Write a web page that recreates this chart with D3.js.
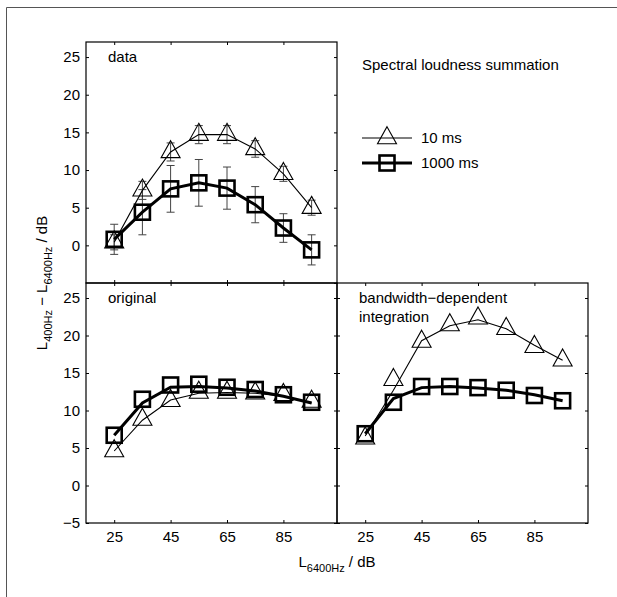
<!DOCTYPE html>
<html>
<head>
<meta charset="utf-8">
<script src="https://cdn.jsdelivr.net/npm/d3@7"></script>
<style>
  body { margin: 0; background: #fff; }
  svg { display: block; font-family: "Liberation Sans", Arial, sans-serif; }
</style>
</head>
<body>
<div id="chart"></div>
<script>
// x values (level of the 6400 Hz component)
const levels = [25, 35, 45, 55, 65, 75, 85, 95];
const xTicks = [25, 45, 65, 85];
const yTicks = [-5, 0, 5, 10, 15, 20, 25];

// data panel
const data10 = [0.4, 7.3, 12.4, 14.7, 14.7, 12.8, 9.5, 5.0];
const data10Err = [1.0, 1.2, 1.2, 1.2, 1.2, 1.1, 1.0, 1.0];
const data1000 = [0.8, 4.4, 7.5, 8.3, 7.6, 5.4, 2.3, -0.6];
const data1000Err = [2.0, 3.0, 3.1, 3.1, 2.8, 2.4, 1.9, 2.0];

// "original" model
const orig10 = [4.6, 8.8, 11.3, 12.4, 12.4, 12.3, 12.1, 11.2];
const orig10Line = [4.6, 8.7, 11.4, 12.3, 12.4, 12.3, 11.9, 11.0];
const orig1000 = [6.7, 11.5, 13.4, 13.5, 13.1, 12.8, 12.1, 11.1];
const orig1000Line = [6.7, 11.0, 13.1, 13.2, 13.0, 12.6, 11.9, 11.0];

// "bandwidth-dependent integration" model
const bw10 = [6.3, 14.1, 19.2, 21.4, 22.3, 20.9, 18.5, 16.7];
const bw10Line = [6.6, 12.7, 19.3, 21.3, 22.1, 20.9, 18.7, 16.7];
const bw1000 = [6.9, 11.1, 13.2, 13.2, 13.05, 12.7, 12.0, 11.3];
const bw1000Line = [6.9, 11.6, 13.05, 13.2, 13.0, 12.7, 12.1, 11.3];

const width = 617, height = 597;
const svg = d3.select("#chart").append("svg")
    .attr("width", width)
    .attr("height", height);

// outer frame of the figure
svg.append("path")
    .attr("d", `M6.5,${height}V7.5H${width}`)
    .attr("fill", "none")
    .attr("stroke", "#555")
    .attr("stroke-width", 1);

const panels = [
    { x0: 86, x1: 337, y0: 42, y1: 283, yLabels: true, xLabels: false,
      tri: data10, triLine: data10, triErr: data10Err,
      sq: data1000, sqLine: data1000, sqErr: data1000Err,
      label: ["data"] },
    { x0: 86, x1: 337, y0: 283, y1: 523, yLabels: true, xLabels: true,
      tri: orig10, triLine: orig10Line, sq: orig1000, sqLine: orig1000Line,
      label: ["original"] },
    { x0: 337, x1: 588, y0: 283, y1: 523, yLabels: false, xLabels: true,
      tri: bw10, triLine: bw10Line, sq: bw1000, sqLine: bw1000Line,
      label: ["bandwidth\u2212dependent", "integration"] }
];

// triangle centred on its centroid, like the matlab marker
const triPath = "M0,-11.3L9.5,5.7L-9.5,5.7Z";
const sqSize = 15;

panels.forEach(p => {
    const x = d3.scaleLinear().domain([15, 104]).range([p.x0, p.x1]);
    const y = d3.scaleLinear().domain([-5, 27]).range([p.y1, p.y0]);
    const g = svg.append("g");

    // inward ticks on all four sides
    g.append("g").attr("transform", `translate(${p.x0},0)`)
        .call(d3.axisLeft(y).tickValues(p.yLabels && !p.xLabels ? yTicks.slice(1) : yTicks)
            .tickSize(-3).tickPadding(6).tickFormat(p.yLabels ? d => d < 0 ? "\u2212" + Math.abs(d) : d : ""));
    g.append("g").attr("transform", `translate(${p.x1},0)`)
        .call(d3.axisRight(y).tickValues(yTicks).tickSize(-3).tickFormat(""));
    g.append("g").attr("transform", `translate(0,${p.y0})`)
        .call(d3.axisTop(x).tickValues(xTicks).tickSize(-3).tickFormat(""));
    g.append("g").attr("transform", `translate(0,${p.y1})`)
        .call(d3.axisBottom(x).tickValues(xTicks).tickSize(-3).tickPadding(8)
            .tickFormat(p.xLabels ? d => d : ""));
    g.selectAll(".domain").remove();
    g.selectAll(".tick line").attr("stroke", "#000");
    g.selectAll(".tick text").attr("font-size", 15).attr("fill", "#000")
        .attr("font-family", "Liberation Sans, Arial, sans-serif");

    g.append("rect")
        .attr("x", p.x0).attr("y", p.y0)
        .attr("width", p.x1 - p.x0).attr("height", p.y1 - p.y0)
        .attr("fill", "none").attr("stroke", "#000").attr("stroke-width", 1.2);

    const line = d3.line().x((d, i) => x(levels[i])).y(d => y(d));

    // error bars
    const errBars = (vals, errs) => {
        if (!errs) return;
        const eg = g.append("g").attr("stroke", "#444").attr("stroke-width", 1).attr("fill", "none");
        vals.forEach((v, i) => {
            const cx = x(levels[i]);
            const lo = y(v - errs[i]), hi = y(v + errs[i]);
            eg.append("path").attr("d", `M${cx},${lo}V${hi}M${cx - 4},${lo}H${cx + 4}M${cx - 4},${hi}H${cx + 4}`);
        });
    };
    errBars(p.tri, p.triErr);
    errBars(p.sq, p.sqErr);

    // 10 ms: thin line, open triangles
    g.append("path").datum(p.triLine).attr("d", line)
        .attr("fill", "none").attr("stroke", "#000").attr("stroke-width", 1.1);
    g.selectAll(".tri").data(p.tri).enter().append("path")
        .attr("transform", (d, i) => `translate(${x(levels[i])},${y(d)})`)
        .attr("d", triPath)
        .attr("fill", "none").attr("stroke", "#000").attr("stroke-width", 1.1);

    // 1000 ms: thick line, open squares
    g.append("path").datum(p.sqLine).attr("d", line)
        .attr("fill", "none").attr("stroke", "#000").attr("stroke-width", 3);
    g.selectAll(".sq").data(p.sq).enter().append("rect")
        .attr("x", (d, i) => x(levels[i]) - sqSize / 2)
        .attr("y", d => y(d) - sqSize / 2)
        .attr("width", sqSize).attr("height", sqSize)
        .attr("fill", "none").attr("stroke", "#000").attr("stroke-width", 2.6);

    p.label.forEach((t, k) => {
        g.append("text")
            .attr("x", p.x0 + 22)
            .attr("y", p.y0 + 20 + k * 19)
            .attr("font-size", 15)
            .text(t);
    });
});

// title and legend in the empty upper right corner
svg.append("text").attr("x", 362).attr("y", 70).attr("font-size", 15)
    .text("Spectral loudness summation");

const legend = svg.append("g");
legend.append("line").attr("x1", 362).attr("x2", 412).attr("y1", 138).attr("y2", 138)
    .attr("stroke", "#000").attr("stroke-width", 1.1);
legend.append("path").attr("transform", "translate(387,138)").attr("d", triPath)
    .attr("fill", "none").attr("stroke", "#000").attr("stroke-width", 1.1);
legend.append("text").attr("x", 421).attr("y", 143).attr("font-size", 15).text("10 ms");
legend.append("line").attr("x1", 362).attr("x2", 412).attr("y1", 163).attr("y2", 163)
    .attr("stroke", "#000").attr("stroke-width", 3);
legend.append("rect").attr("x", 387 - sqSize / 2).attr("y", 163 - sqSize / 2)
    .attr("width", sqSize).attr("height", sqSize)
    .attr("fill", "none").attr("stroke", "#000").attr("stroke-width", 2.6);
legend.append("text").attr("x", 421).attr("y", 168).attr("font-size", 15).text("1000 ms");

// axis labels
const xl = svg.append("text").attr("x", 337).attr("y", 567)
    .attr("text-anchor", "middle").attr("font-size", 15);
xl.append("tspan").text("L");
xl.append("tspan").attr("font-size", 11).attr("dy", 5).text("6400Hz");
xl.append("tspan").attr("dy", -5).text(" / dB");

const yl = svg.append("text").attr("transform", "translate(47,283) rotate(-90)")
    .attr("text-anchor", "middle").attr("font-size", 15);
yl.append("tspan").text("L");
yl.append("tspan").attr("font-size", 11).attr("dy", 5).text("400Hz");
yl.append("tspan").attr("dy", -5).text(" \u2212 L");
yl.append("tspan").attr("font-size", 11).attr("dy", 5).text("6400Hz");
yl.append("tspan").attr("dy", -5).text(" / dB");
</script>
</body>
</html>
